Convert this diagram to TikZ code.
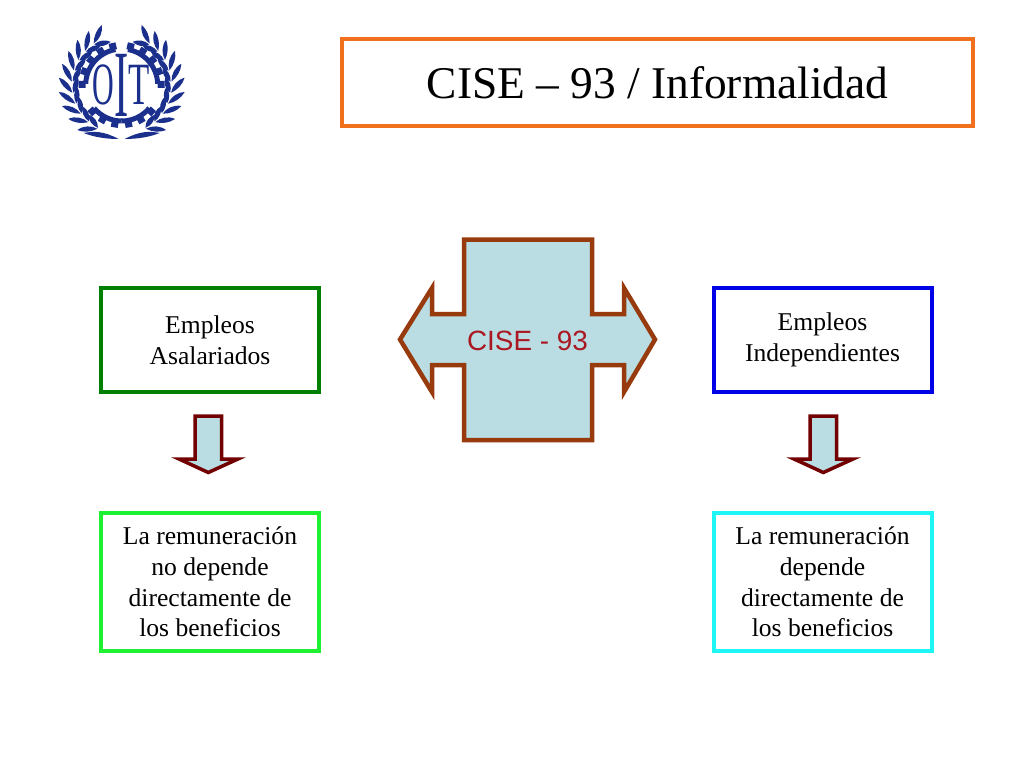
\documentclass[tikz,border=0pt]{standalone}
\usepackage{fontspec}
\setmainfont{Liberation Serif}
\newfontfamily\armfont{Liberation Sans}
\definecolor{armfill}{HTML}{B9DDE2}
\definecolor{armline}{HTML}{973A0E}
\definecolor{oitblue}{HTML}{1B2F8C}
\tikzset{
	txtbox/.style={draw, line width=4pt, minimum width=218pt, align=center, inner sep=0pt, font=\fontsize{25.6}{30.7}\selectfont},
	downarrow/.style={draw=black!0!red!45!black, fill=armfill, line width=3.5pt, miter limit=10},
	leaf/.style={fill=oitblue, draw=none}
}
\begin{document}
\begin{tikzpicture}[x=1pt, y=-1pt]
	\useasboundingbox (0,0) rectangle (1024,768);
	% title
	\node[draw={rgb,255:red,240;green,112;blue,30}, line width=4pt, minimum width=631pt, minimum height=87pt, inner sep=0pt, font=\fontsize{45.4}{50}\selectfont] (title) at (657.5, 82.5) {CISE -- 93 / Informalidad};
	% boxes
	\node[txtbox, draw={rgb,255:red,0;green,128;blue,0}, minimum height=104pt] (asal) at (210, 340) {Empleos\\Asalariados};
	\node[txtbox, draw={rgb,255:red,0;green,0;blue,230}, minimum height=104pt] (indep) at (822.5, 340) {Empleos\\Independientes};
	\node[txtbox, draw={rgb,255:red,30;green,240;blue,50}, minimum height=138pt] (nodep) at (210, 582) {La remuneración\\no depende\\directamente de\\los beneficios};
	\node[txtbox, draw={rgb,255:red,30;green,245;blue,245}, minimum height=138pt] (dep) at (822.5, 582) {La remuneración\\depende\\directamente de\\los beneficios};
	% centre arrow
	\draw[draw=armline, fill=armfill, line width=4.5pt, miter limit=10] (464,239.5) -- (592,239.5) -- (592,314) -- (624,314) -- (624,288) -- (655,339.5) -- (624,392) -- (624,365) -- (592,365) -- (592,440) -- (464,440) -- (464,365) -- (432,365) -- (432,392) -- (400,339.5) -- (432,288) -- (432,314) -- (464,314) -- cycle;
	\node[text={rgb,255:red,170;green,25;blue,35}, font=\armfont\fontsize{27.9}{30}\selectfont] (cise) at (527.5, 341) {CISE - 93};
	% down arrows
	\foreach \dx in {0, 615} {
		\draw[downarrow, xshift=\dx pt] (195,416) -- (221.5,416) -- (221.5,459) -- (238,459) -- (208.3,472.5) -- (179,459) -- (195,459) -- cycle;
	}
	% logo
	\begin{scope}[shift={(121.7,85)}, y=1pt]
		\foreach \side in {1, -1} {
			\begin{scope}[xscale=\side]
				\foreach \ang in {124,137,...,241} {
					\fill[leaf, rotate=\ang] (50,0) .. controls (56,-4) and (60,-10) .. (61,-17) .. controls (54,-14) and (50,-7) .. cycle;
					\fill[leaf, rotate=\ang] (49,0) .. controls (43,-3) and (41,-9) .. (42,-15) .. controls (47,-12) and (50,-6) .. cycle;
				}
				\fill[leaf] (-3,-54) .. controls (-18,-46) and (-28,-46) .. (-38,-48) .. controls (-28,-52) and (-16,-54) .. cycle;
				% gear
				\draw[oitblue, line width=5pt] (100:36) arc[start angle=100, end angle=178, radius=36];
				\draw[oitblue, line width=5pt] (-90:36) arc[start angle=-90, end angle=-140, radius=36];
				\foreach \ang in {103,122,141,160,179,-100,-119,-138} {
					\fill[oitblue, rotate=\ang] (36,-3.5) rectangle (43,3.5);
				}
			\end{scope}
		}
		\node[oitblue, xscale=0.5, font=\fontsize{60}{60}\selectfont, inner sep=0pt] (logoO) at (-18,0) {O};
		\node[oitblue, xscale=0.45, font=\fontsize{95}{95}\selectfont, inner sep=0pt] (logoI) at (0,0) {I};
		\node[oitblue, xscale=0.58, font=\fontsize{60}{60}\selectfont, inner sep=0pt] (logoT) at (17,0) {T};
	\end{scope}
\end{tikzpicture}
\end{document}
